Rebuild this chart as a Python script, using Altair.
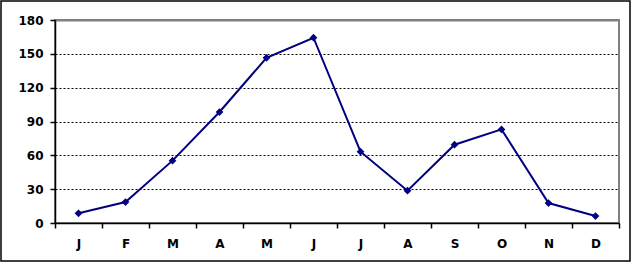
import altair as alt
import pandas as pd

months = ["J", "F", "M", "A", "M", "J", "J", "A", "S", "O", "N", "D"]
values = [8.6, 18.6, 55.3, 98.4, 146.5, 164.3, 63.2, 28.6, 69.4, 83.0, 17.7, 6.2]
y_ticks = [0, 30, 60, 90, 120, 150, 180]

df = pd.DataFrame({"idx": list(range(12)), "month": months, "value": values})
order = list(range(12))
label_expr = "[" + ",".join('"%s"' % m for m in months) + "][datum.value]"

W, H = 564, 203

x_enc = alt.X("idx:O", scale=alt.Scale(domain=order, paddingInner=0, paddingOuter=0),
              axis=alt.Axis(title=None, labelExpr=label_expr, labelAngle=0,
                            tickBand="extent", tickSize=5, tickColor="black", tickWidth=1.5,
                            domainColor="black", domainWidth=1.5, labelFont="DejaVu Sans",
                            labelFontWeight="bold", labelFontSize=12, labelColor="black",
                            labelPadding=10, grid=False))
y_enc = alt.Y("value:Q", scale=alt.Scale(domain=[0, 180], nice=False, zero=True),
              axis=alt.Axis(title=None, values=y_ticks, tickSize=5, tickColor="black",
                            tickWidth=1.5, domainColor="black", domainWidth=1.5,
                            labelFont="DejaVu Sans", labelFontWeight="bold", labelFontSize=12,
                            labelColor="black", labelPadding=7, labelOverlap=False,
                            labelFlush=False, grid=True,
                            gridColor=alt.condition("datum.value >= 180", alt.value("#808080"), alt.value("black")),
                            gridDash=alt.condition("datum.value >= 180", alt.value([1, 0]), alt.value([2, 2])),
                            gridWidth=alt.condition("datum.value >= 180", alt.value(2), alt.value(1))))

base = alt.Chart(df)
line = base.mark_line(color="#000080", strokeWidth=2).encode(x=x_enc, y=y_enc)
pts = base.mark_point(shape="diamond", filled=True, color="#000080", size=60, opacity=1).encode(x=x_enc, y=y_enc)

frame = alt.Chart(pd.DataFrame({"a": [0]})).mark_rect(
    fill=None, stroke="black", strokeWidth=1.5
).encode(x=alt.value(-54), x2=alt.value(W + 11), y=alt.value(-19), y2=alt.value(H + 38))

chart = alt.layer(frame, line, pts).properties(
    width=W, height=H,
    autosize=alt.AutoSizeParams(type="none"),
    padding={"left": 55, "top": 20, "right": 13, "bottom": 40},
    background="white",
).configure_view(stroke="#808080", strokeWidth=2)

chart.save("out.html", embed_options={"renderer": "svg", "actions": False})
